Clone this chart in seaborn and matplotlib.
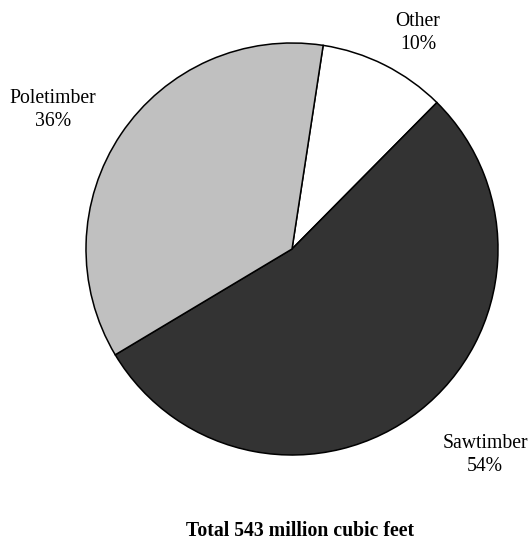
import matplotlib
matplotlib.use("Agg")
import matplotlib.pyplot as plt
import seaborn as sns

categories = ["Other", "Sawtimber", "Poletimber"]
shares = [10, 54, 36]
colors = ["#ffffff", "#333333", "#c0c0c0"]
title = "Total 543 million cubic feet"

sns.set_theme(style="white")
plt.rcParams["font.family"] = ["Liberation Serif", "DejaVu Serif"]

W, H = 530, 540
fig = plt.figure(figsize=(W / 100, H / 100), dpi=100)
ax = fig.add_axes([0, 0, 1, 1])
ax.set_xlim(0, W)
ax.set_ylim(0, H)
ax.axis("off")

cx, cy, r = 292, H - 249, 206
ax.pie(shares, colors=colors, startangle=81.3, counterclock=False,
       center=(cx, cy), radius=r,
       wedgeprops=dict(edgecolor="black", linewidth=1.1))
ax.set_xlim(0, W)
ax.set_ylim(0, H)
ax.set_aspect("equal")

label_pos = {"Other": (418, 33), "Poletimber": (53, 110), "Sawtimber": (485, 455)}
for cat, val in zip(categories, shares):
    x, y = label_pos[cat]
    ax.text(x, H - y, f"{cat}\n{val}%", ha="center", va="center",
            fontsize=14.2, linespacing=1.3, color="black")

ax.text(300, H - 531, title, ha="center", va="center", fontsize=14.2,
        fontweight="bold", color="black")

fig.savefig("out.png", dpi=100)
